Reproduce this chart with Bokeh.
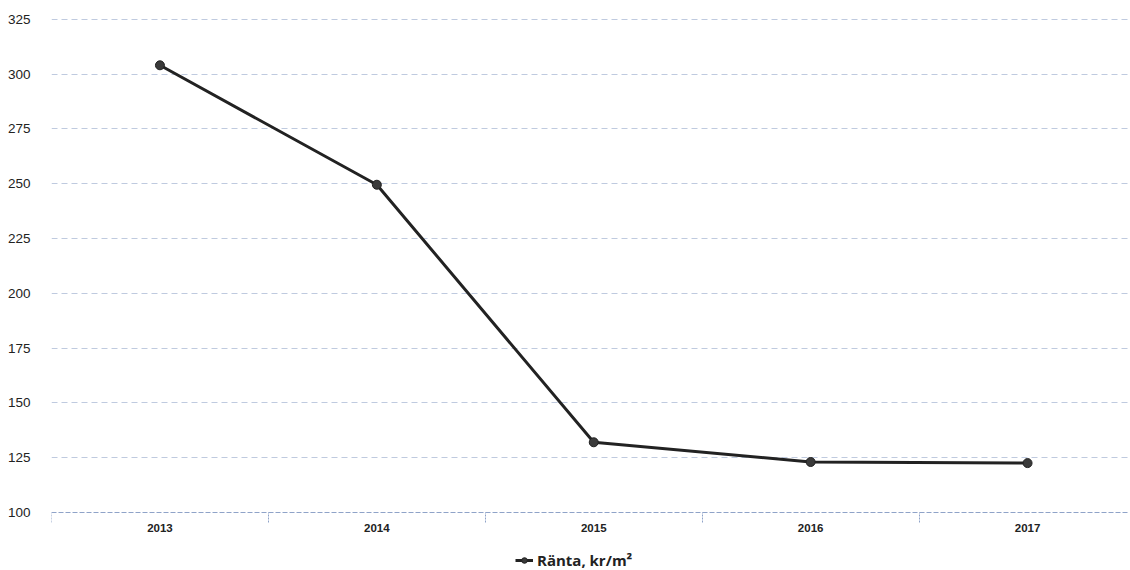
from bokeh.plotting import figure
from bokeh.models import Range1d, FixedTicker, Legend, LegendItem, ColumnDataSource
from bokeh.embed import file_html
from bokeh.resources import INLINE

years = ["2013", "2014", "2015", "2016", "2017"]
ranta = [304, 249.5, 132, 123, 122.5]
y_ticks = [100, 125, 150, 175, 200, 225, 250, 275, 300, 325]

xs = list(range(len(years)))
src = ColumnDataSource(dict(x=xs, y=ranta))

p = figure(width=1130, height=570, output_backend="svg", toolbar_location=None,
           x_range=Range1d(-0.5, len(years) - 0.53), y_range=Range1d(73.5, 329),
           min_border_left=51, min_border_right=1, min_border_top=10, min_border_bottom=0)
p.outline_line_color = None
p.background_fill_color = "white"

# y axis
p.yaxis.ticker = FixedTicker(ticks=y_ticks)
p.yaxis.axis_line_color = None
p.yaxis.major_tick_line_color = None
p.yaxis.minor_tick_line_color = None
p.yaxis.major_label_text_font = "Liberation Sans"
p.yaxis.major_label_text_font_size = "13.5px"
p.yaxis.major_label_text_color = "#222222"
p.yaxis.major_label_standoff = 15

# x axis (drawn at y = 100)
p.xaxis.fixed_location = y_ticks[0]
p.xaxis.ticker = FixedTicker(ticks=xs, minor_ticks=[i - 0.5 for i in range(len(years) + 1)])
p.xaxis.major_label_overrides = {i: y for i, y in enumerate(years)}
p.xaxis.axis_line_color = "#8fa3c8"
p.xaxis.axis_line_dash = "5 2"
p.xaxis.axis_line_width = 1
p.xaxis.major_tick_line_color = None
p.xaxis.major_tick_out = 0
p.xaxis.major_tick_in = 0
p.xaxis.minor_tick_line_color = "#8fa3c8"
p.xaxis.minor_tick_line_dash = "2 1"
p.xaxis.minor_tick_out = 10
p.xaxis.minor_tick_in = 0
p.xaxis.major_label_text_font = "Liberation Sans"
p.xaxis.major_label_text_font_style = "bold"
p.xaxis.major_label_text_font_size = "11.5px"
p.xaxis.major_label_text_color = "#222222"
p.xaxis.major_label_standoff = 2

# grid
p.xgrid.grid_line_color = None
p.ygrid.ticker = FixedTicker(ticks=y_ticks[1:])
p.ygrid.grid_line_color = "#a9b8d4"
p.ygrid.grid_line_dash = "6 4"
p.ygrid.grid_line_width = 1
p.ygrid.grid_line_alpha = 0.75

line = p.line("x", "y", source=src, line_color="#222222", line_width=3)
pts = p.scatter("x", "y", source=src, size=9, fill_color="#3a3a3a", line_color="#222222", line_width=1)

legend = Legend(items=[LegendItem(label="Ränta, kr/m²", renderers=[line, pts])],
                orientation="horizontal", location=(464, 0),
                label_text_font="Open Sans", label_text_font_style="bold",
                label_text_font_size="15px", label_text_color="#222222",
                border_line_color=None, background_fill_alpha=0,
                glyph_width=18, glyph_height=14, spacing=4, padding=2, margin=0,
                label_standoff=4, label_height=16)
p.add_layout(legend)

open("out.html", "w").write(file_html(p, INLINE))
